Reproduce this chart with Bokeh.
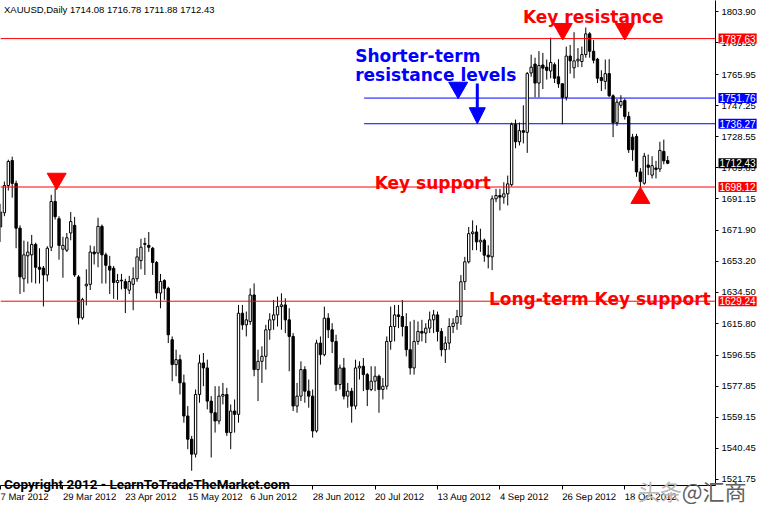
from bokeh.plotting import figure
from bokeh.models import (ColumnDataSource, Range1d, FixedTicker, NumeralTickFormatter,
                          Span, Arrow, NormalHead)
from bokeh.core.properties import value
from bokeh.embed import file_html
from bokeh.resources import INLINE

# ---------------- data (XAUUSD daily) ----------------
opens = [1674.0, 1682.6, 1699.0, 1714.1, 1700.3, 1673.3, 1642.8, 1656.6, 1657.2, 1663.5,
         1649.7, 1649.2, 1645.1, 1661.8, 1689.4, 1679.0, 1660.6, 1660.0, 1670.4, 1675.0,
         1643.9, 1619.2, 1638.5, 1639.4, 1658.9, 1658.3, 1674.4, 1657.2, 1650.3, 1649.1,
         1640.5, 1641.9, 1641.1, 1635.9, 1639.4, 1642.8, 1653.7, 1663.5, 1662.9, 1661.2,
         1652.6, 1634.2, 1641.7, 1637.0, 1606, 1591, 1594, 1580, 1560, 1546,
         1537, 1573, 1592, 1589, 1569, 1562, 1557, 1572, 1573, 1550,
         1563, 1561, 1622, 1615, 1617, 1633, 1588, 1593, 1596, 1612,
         1618, 1621, 1626, 1627, 1618, 1608, 1566, 1572, 1588, 1575,
         1572, 1551, 1604, 1597, 1619, 1612, 1605, 1579, 1589, 1572,
         1575, 1566, 1589, 1590, 1585, 1576, 1581, 1584, 1576, 1578,
         1605, 1614, 1621, 1620, 1614, 1600, 1589, 1605, 1611, 1610,
         1613, 1618, 1621, 1611, 1600, 1604, 1614, 1616, 1620, 1641,
         1653, 1670, 1671, 1665, 1666, 1657, 1656, 1691, 1693, 1692,
         1694, 1699.5, 1735.9, 1725.4, 1732.1, 1731.1, 1766.9, 1772.3, 1760.8, 1771.7,
         1770.4, 1768.1, 1771.9, 1764.6, 1760.4, 1752.2, 1777.1, 1770.0, 1774.2, 1773.8,
         1778.0, 1790.5, 1780.0, 1775.2, 1764.1, 1761.8, 1766.5, 1753.1, 1736.9, 1747.4,
         1750.3, 1740.7, 1728.2, 1728.6, 1707.2, 1700.4, 1711.4, 1705.3, 1709.6, 1709.0,
         1719.6, 1714.08]
highs = [1688.0, 1701.4, 1714.6, 1716.4, 1702.0, 1675.0, 1665.8, 1665.2, 1669.2, 1664.5,
         1661.2, 1650.5, 1662.4, 1693.4, 1697.4, 1680.5, 1668.1, 1670.4, 1683.0, 1680.1,
         1645.0, 1631.3, 1648.5, 1662.9, 1662.4, 1679.6, 1675.5, 1658.5, 1656.6, 1650.5,
         1645.7, 1645.7, 1642.8, 1644.5, 1649.7, 1661.2, 1666.9, 1667.5, 1671.0, 1662.0,
         1653.5, 1645.7, 1642.5, 1638.0, 1608, 1600, 1597, 1585, 1566, 1548,
         1576, 1597, 1598, 1594, 1572, 1578, 1578, 1580, 1577, 1567,
         1570, 1627, 1627, 1623, 1637, 1640, 1600, 1602, 1615, 1622,
         1630, 1632, 1634, 1631, 1625, 1610, 1580, 1593, 1590, 1582,
         1576, 1606, 1608, 1626, 1622, 1616, 1609, 1591, 1595, 1580,
         1577, 1594, 1593, 1595, 1586, 1590, 1590, 1585, 1583, 1608,
         1626, 1627, 1627, 1630, 1622, 1617, 1618, 1617, 1618, 1616,
         1623, 1624, 1623, 1613, 1608, 1619, 1619, 1624, 1645, 1656,
         1674, 1678, 1675, 1673, 1667, 1663, 1693, 1697, 1697, 1701,
         1705, 1737.0, 1738.8, 1737.0, 1747.4, 1767.5, 1777.9, 1776.1, 1780.1, 1779.0,
         1775.0, 1788.2, 1773.2, 1775.2, 1760.6, 1782.8, 1783.8, 1791.5, 1781.9, 1782.8,
         1794.3, 1791.5, 1786.7, 1776.0, 1768.5, 1775.0, 1775.2, 1754.0, 1751.2, 1753.5,
         1751.4, 1743.5, 1730.2, 1730.2, 1709.5, 1718.7, 1717.7, 1716.7, 1713.9, 1725.4,
         1726.7, 1716.78]
lows = [1665.0, 1680.5, 1696.0, 1691.7, 1661.2, 1633.6, 1634.7, 1639.9, 1640.5, 1639.9,
        1639.9, 1626.1, 1641.1, 1659.5, 1678.5, 1654.3, 1643.4, 1658.9, 1666.0, 1643.9,
        1615.2, 1618.1, 1626.7, 1636.0, 1651.4, 1649.7, 1639.9, 1639.9, 1633.6, 1630.7,
        1630.1, 1636.4, 1622.1, 1633.6, 1623.8, 1641.0, 1648.5, 1645.1, 1659.0, 1645.1,
        1630.7, 1625.0, 1630.1, 1604.0, 1581, 1584, 1573, 1556, 1540, 1527,
        1535, 1568, 1578, 1564, 1535, 1550, 1555, 1567, 1548, 1540,
        1550, 1556, 1612, 1608, 1615, 1584, 1569, 1580, 1588, 1606,
        1612, 1614, 1612, 1610, 1587, 1563, 1562, 1569, 1568, 1565,
        1547, 1550, 1591, 1596, 1607, 1598, 1575, 1576, 1570, 1565,
        1556, 1564, 1582, 1575, 1566, 1575, 1575, 1562, 1570, 1576,
        1600, 1605, 1613, 1608, 1596, 1585, 1585, 1603, 1605, 1604,
        1610, 1610, 1605, 1596, 1592, 1600, 1610, 1612, 1615, 1636,
        1652, 1660, 1660, 1659, 1653, 1649, 1648, 1689, 1684, 1688,
        1687, 1698.5, 1721.5, 1723.2, 1724.4, 1718.7, 1764.6, 1752.2, 1752.2, 1757.2,
        1762.9, 1763.7, 1760.8, 1757.9, 1735.9, 1750.3, 1766.5, 1763.7, 1770.4, 1770.4,
        1776.1, 1776.1, 1772.7, 1760.8, 1756.0, 1757.0, 1752.5, 1728.2, 1734.9, 1745.7,
        1738.8, 1718.7, 1713.9, 1704.3, 1697.6, 1699.5, 1705.3, 1703.3, 1703.3, 1707.2,
        1711.8, 1711.88]
closes = [1683.0, 1699.0, 1713.5, 1700.3, 1673.3, 1643.9, 1657.2, 1658.9, 1663.5, 1649.7,
          1648.5, 1645.1, 1661.2, 1689.4, 1680.2, 1662.9, 1662.9, 1667.5, 1677.3, 1645.1,
          1619.2, 1630.2, 1639.5, 1658.9, 1657.8, 1674.4, 1657.2, 1650.9, 1648.0, 1640.5,
          1641.7, 1641.5, 1637.0, 1641.1, 1642.8, 1656.0, 1661.8, 1664.1, 1661.8, 1652.6,
          1634.2, 1641.1, 1637.0, 1609.0, 1591, 1594, 1580, 1560, 1546, 1537,
          1573, 1592, 1589, 1569, 1562, 1557, 1572, 1573, 1550, 1563,
          1561, 1622, 1615, 1618, 1633, 1588, 1593, 1596, 1612, 1618,
          1621, 1626, 1627, 1618, 1608, 1566, 1572, 1588, 1575, 1572,
          1551, 1604, 1597, 1619, 1612, 1605, 1579, 1589, 1572, 1575,
          1566, 1589, 1590, 1585, 1576, 1581, 1584, 1576, 1578, 1605,
          1614, 1621, 1620, 1614, 1600, 1589, 1605, 1611, 1610, 1613,
          1618, 1621, 1611, 1600, 1604, 1614, 1616, 1620, 1641, 1653,
          1670, 1671, 1665, 1666, 1657, 1656, 1691, 1693, 1692, 1694,
          1700, 1735.9, 1725.4, 1732.1, 1731.1, 1766.5, 1770.4, 1760.8, 1771.4, 1769.8,
          1768.5, 1773.2, 1763.7, 1760.4, 1752.2, 1777.1, 1774.2, 1774.2, 1775.2, 1778.0,
          1790.5, 1780.0, 1774.6, 1763.7, 1762.3, 1766.5, 1753.1, 1736.9, 1749.3, 1749.7,
          1740.7, 1720.6, 1720.6, 1707.2, 1701.4, 1716.7, 1710.0, 1711.0, 1708.7, 1720.2,
          1713.9, 1712.43]

tick_bars = [0, 16, 32, 48, 64, 80, 96, 112, 128, 144, 160]
tick_dates = ["7 Mar 2012", "29 Mar 2012", "23 Apr 2012", "15 May 2012", "6 Jun 2012",
              "28 Jun 2012", "20 Jul 2012", "13 Aug 2012", "4 Sep 2012", "26 Sep 2012",
              "18 Oct 2012"]
price_ticks = [1803.90, 1785.20, 1765.95, 1747.25, 1728.55, 1709.85, 1691.15, 1671.90,
               1653.20, 1634.50, 1615.80, 1596.55, 1577.85, 1559.15, 1540.45, 1521.75]

key_resistance = 1787.63
short_resistance = [1751.76, 1736.27]
key_support = 1698.12
long_support = 1629.24
last_price = 1712.43

resist_marker_bars = [144.1, 160.0]
resist_marker_price = [1793.4, 1793.4]
support_marker_bars = [14.4]
support_marker_price = [1703.1]
bounce_marker_bars = [164.0]
bounce_marker_price = [1691.5]
blue_marker_bars = [117.3]
blue_marker_price = [1758.0]

# ---------------- figure ----------------
X0, X1 = 0.0, 183.25
Y0, Y1 = 1518.1, 1810.6

p = figure(width=758, height=510, x_range=Range1d(X0, X1), y_range=Range1d(Y0, Y1),
           output_backend="svg", toolbar_location=None, y_axis_location="right",
           min_border_left=0, min_border_top=0, min_border_right=0, min_border_bottom=0,
           background_fill_color="white", border_fill_color="white",
           outline_line_color=None)
p.grid.visible = False

AX_FONT = "Liberation Sans"
ya = p.yaxis[0]
ya.ticker = FixedTicker(ticks=price_ticks, minor_ticks=[])
ya.formatter = NumeralTickFormatter(format="0.00")
ya.major_tick_in = 0
ya.major_tick_out = 3
ya.minor_tick_out = 0
ya.major_label_standoff = 3
ya.major_label_text_font = AX_FONT
ya.major_label_text_font_size = "9.5px"
ya.major_label_text_color = "black"
ya.axis_line_color = "black"
ya.major_tick_line_color = "black"

xa = p.xaxis[0]
xa.ticker = FixedTicker(ticks=tick_bars, minor_ticks=[])
xa.major_label_overrides = {b: d for b, d in zip(tick_bars, tick_dates)}
xa.major_label_orientation = -0.001   # tiny angle: labels start at the tick, as in MT4
xa.major_tick_in = 0
xa.major_tick_out = 4
xa.minor_tick_out = 0
xa.major_label_standoff = 7
xa.major_label_text_font = AX_FONT
xa.major_label_text_font_size = "9.5px"
xa.major_label_text_color = "black"
xa.axis_line_color = "black"

# ---------------- level lines ----------------
for lvl in [key_resistance, key_support, long_support]:
    p.add_layout(Span(location=lvl, dimension="width", line_color="#ff0000", line_width=1))
p.segment(x0=[93.2] * len(short_resistance), y0=short_resistance,
          x1=[X1] * len(short_resistance), y1=short_resistance,
          line_color="#0000ff", line_width=1)

# ---------------- candles ----------------
bars = list(range(len(opens)))
src = ColumnDataSource(dict(
    x=bars, high=highs, low=lows,
    bot=[min(o, c) for o, c in zip(opens, closes)],
    top=[max(o, c) for o, c in zip(opens, closes)],
    fill=["white" if c >= o else "black" for o, c in zip(opens, closes)],
))
p.segment(x0="x", y0="low", x1="x", y1="high", source=src, line_color="black", line_width=1)
p.vbar(x="x", width=0.6, bottom="bot", top="top", source=src,
       fill_color="fill", line_color="black", line_width=1)

# ---------------- markers ----------------
p.scatter(x=resist_marker_bars, y=resist_marker_price, marker="inverted_triangle",
          size=19, fill_color="#ff0000", line_color="#ff0000")
p.scatter(x=support_marker_bars, y=support_marker_price, marker="inverted_triangle",
          size=19, fill_color="#ff0000", line_color="#ff0000")
p.scatter(x=bounce_marker_bars, y=bounce_marker_price, marker="triangle",
          size=19, fill_color="#ff0000", line_color="#ff0000")
p.scatter(x=blue_marker_bars, y=blue_marker_price, marker="inverted_triangle",
          size=19, fill_color="#0000ff", line_color="#0000ff")
p.add_layout(Arrow(end=NormalHead(size=16, fill_color="#0000ff", line_color="#0000ff"),
                   x_start=122.2, y_start=1760.6, x_end=122.2, y_end=short_resistance[1],
                   line_color="#0000ff", line_width=3))

# ---------------- texts ----------------
BIG = "DejaVu Sans"
ann_x = [133.9, 90.9, 90.9, 95.9, 125.2]
ann_y = [1800.6, 1777.1, 1765.6, 1700.3, 1630.5]
ann_text = ["Key resistance", "Shorter-term", "resistance levels", "Key support",
            "Long-term Key support"]
ann_color = ["#ff0000", "#0000ff", "#0000ff", "#ff0000", "#ff0000"]
p.text(x=ann_x, y=ann_y, text=ann_text, text_color=ann_color, text_font=value(BIG),
       text_font_size="17px", text_font_style="bold", text_baseline="alphabetic",
       text_align="left", level="overlay")

p.text(x=[0.9], y=[Y0], y_offset=-2, text=["Copyright 2012 - LearnToTradeTheMarket.com"],
       text_color="black", text_font=value("Roboto"), text_font_size="13.5px",
       text_font_style="bold", text_baseline="alphabetic", level="overlay")
p.text(x=[0.9], y=[Y1], y_offset=3,
       text=["XAUUSD,Daily  %.2f %.2f %.2f %.2f" % (opens[-1], highs[-1], lows[-1], closes[-1])],
       text_color="black", text_font=value(AX_FONT), text_font_size="9.5px",
       text_baseline="top", level="overlay")

# price boxes on the right axis
box_levels = [key_resistance, short_resistance[0], short_resistance[1], last_price,
              key_support, long_support]
box_colors = ["#ff0000", "#0000ff", "#0000ff", "black", "#ff0000", "#ff0000"]
box_src = ColumnDataSource(dict(x=[X1] * len(box_levels), y=box_levels,
                                t=["%.2f" % v for v in box_levels], c=box_colors))
p.text(x="x", y="y", text="t", source=box_src, x_offset=3, text_color="white",
       text_font=value(AX_FONT), text_font_size="10px", text_baseline="middle",
       text_align="left", background_fill_color="c", padding=1, level="overlay")

# watermark
p.text(x=[163.4, 174.6], y=[Y0, Y0], y_offset=4, text=["头条", "@汇商"],
       text_color=["#b8b8b8", "#606060"], text_font=value("Noto Sans CJK SC"),
       text_font_size="22px", text_baseline="alphabetic", level="overlay")

open("out.html", "w").write(file_html(p, INLINE))
